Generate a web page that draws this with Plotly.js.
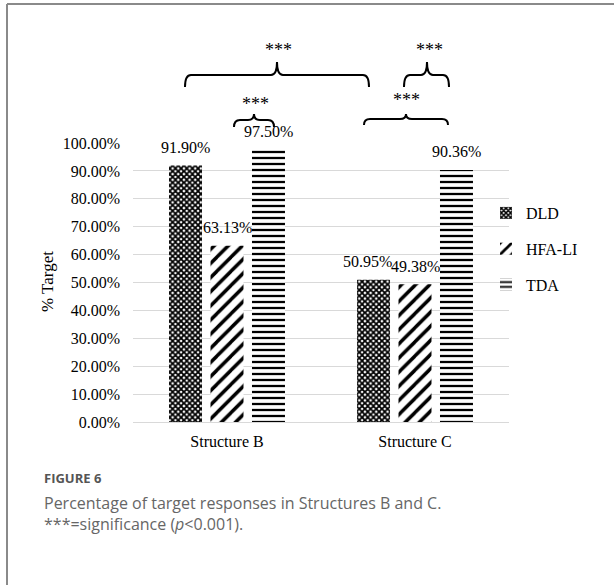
<!DOCTYPE html>
<html>
<head>
<meta charset="utf-8">
<script src="https://cdn.plot.ly/plotly-3.0.1.min.js"></script>
<style>
  html, body { margin: 0; padding: 0; background: #ffffff; }
  #chart { width: 614px; height: 585px; }
</style>
</head>
<body>
<div id="chart"></div>
<script>
// ---- data ----
const categories = ["Structure B", "Structure C"];
const seriesNames = ["DLD", "HFA-LI", "TDA"];
const dldValues = [0.9190, 0.5095];
const hfaValues = [0.6313, 0.4938];
const tdaValues = [0.9750, 0.9036];
const yTickValues = [0, 0.1, 0.2, 0.3, 0.4, 0.5, 0.6, 0.7, 0.8, 0.9, 1.0];
const sigLabel = "***";

// ---- layout helpers (pixel -> paper) ----
const W = 614, H = 585;
const M = { l: 133, r: 105, t: 143, b: 163 };
const PW = W - M.l - M.r, PH = H - M.t - M.b;
const X = p => (p - M.l) / PW;
const Y = p => (H - M.b - p) / PH;
const BARGAP = 0.338, BARGROUPGAP = 0.205;
// small horizontal nudge (px) of crowded value labels, keyed "series,category"
const labelNudge = { "0,1": -6 };

const serif = "Liberation Serif, Times New Roman, serif";

function barTrace(name, vals, shape, size, solidity) {
  return {
    type: "bar",
    name: name,
    legendgroup: name,
    x: categories,
    y: vals,
    marker: {
      color: "#ffffff",
      line: { width: 0 },
      pattern: { shape: shape, size: size, solidity: solidity, fgcolor: "#000000", bgcolor: "#ffffff", fillmode: "replace" }
    },
    hoverinfo: "skip"
  };
}

const seriesValues = [dldValues, hfaValues, tdaValues];
const traces = [
  barTrace(seriesNames[0], dldValues, "x", 4, 0.7),
  barTrace(seriesNames[1], hfaValues, "/", 10, 0.35),
  barTrace(seriesNames[2], tdaValues, "-", 6, 0.38)
];

// curly bracket path in pixel coords -> paper path
function bracket(x1, x2, yh, yend, xm, ytip) {
  const r = 6;
  const pts = (a, b) => X(a).toFixed(5) + "," + Y(b).toFixed(5);
  return "M" + pts(x1, yend) +
    " Q" + pts(x1, yh) + " " + pts(x1 + r, yh) +
    " L" + pts(xm - r, yh) +
    " Q" + pts(xm, yh) + " " + pts(xm, ytip) +
    " Q" + pts(xm, yh) + " " + pts(xm + r, yh) +
    " L" + pts(x2 - r, yh) +
    " Q" + pts(x2, yh) + " " + pts(x2, yend);
}

const brackets = [
  { x1: 185, x2: 369, yh: 75, yend: 87, xm: 277, ytip: 62, sx: 278, sy: 50 },
  { x1: 404, x2: 449, yh: 75, yend: 87, xm: 427, ytip: 62, sx: 429, sy: 50 },
  { x1: 234, x2: 274, yh: 120, yend: 127, xm: 254, ytip: 114, sx: 255, sy: 104 },
  { x1: 364, x2: 448, yh: 119, yend: 125, xm: 406, ytip: 114, sx: 406, sy: 100 }
];

const shapes = brackets.map(b => ({
  type: "path", xref: "paper", yref: "paper",
  path: bracket(b.x1, b.x2, b.yh, b.yend, b.xm, b.ytip),
  line: { color: "#000", width: 2 }
}));
// outer frame lines
shapes.push({ type: "line", xref: "paper", yref: "paper", x0: X(7), x1: X(614), y0: Y(4), y1: Y(4), line: { color: "#8a8a8a", width: 2 } });
shapes.push({ type: "line", xref: "paper", yref: "paper", x0: X(7), x1: X(7), y0: Y(4), y1: Y(585), line: { color: "#8a8a8a", width: 2 } });

const annotations = brackets.map(b => ({
  xref: "paper", yref: "paper", x: X(b.sx), y: Y(b.sy),
  text: sigLabel, showarrow: false, xanchor: "center", yanchor: "middle",
  font: { family: serif, size: 18, color: "#000" }
}));

// value labels above bars (positions derived from the bar layout)
const slotPx = (PW / categories.length) * (1 - BARGAP) / seriesNames.length;
seriesValues.forEach((vals, i) => {
  vals.forEach((v, j) => {
    annotations.push({
      xref: "x", yref: "y", x: categories[j], y: v,
      xshift: (i - (seriesNames.length - 1) / 2) * slotPx + (labelNudge[i + "," + j] || 0),
      yshift: 18,
      text: (v * 100).toFixed(2) + "%",
      showarrow: false, xanchor: "center", yanchor: "middle",
      font: { family: serif, size: 16, color: "#000" }
    });
  });
});

annotations.push({
  xref: "paper", yref: "paper", x: X(47), y: Y(282), text: "% Target",
  textangle: -90, showarrow: false, xanchor: "center", yanchor: "middle",
  font: { family: serif, size: 17, color: "#000" }
});
annotations.push({
  xref: "paper", yref: "paper", x: X(42), y: Y(478), text: "<b>FIGURE 6</b>",
  showarrow: false, xanchor: "left", yanchor: "middle",
  font: { family: "Open Sans, sans-serif", size: 13, color: "#555" }
});
annotations.push({
  xref: "paper", yref: "paper", x: X(42), y: Y(503), text: "Percentage of target responses in Structures B and C.",
  showarrow: false, xanchor: "left", yanchor: "middle",
  font: { family: "Open Sans, sans-serif", size: 16, color: "#666" }
});
annotations.push({
  xref: "paper", yref: "paper", x: X(42), y: Y(524), text: "***=significance (<i>p</i><0.001).",
  showarrow: false, xanchor: "left", yanchor: "middle",
  font: { family: "Open Sans, sans-serif", size: 16, color: "#666" }
});

const layout = {
  width: W, height: H,
  margin: M,
  paper_bgcolor: "#ffffff",
  plot_bgcolor: "#ffffff",
  barmode: "group",
  bargap: BARGAP,
  bargroupgap: BARGROUPGAP,
  showlegend: true,
  legend: {
    x: X(486), y: Y(196), xanchor: "left", yanchor: "top",
    font: { family: serif, size: 16, color: "#000" },
    traceorder: "grouped", tracegroupgap: 12,
    bgcolor: "rgba(0,0,0,0)"
  },
  xaxis: {
    type: "category",
    showgrid: false, showline: false, zeroline: false, ticks: "",
    tickfont: { family: serif, size: 16, color: "#000" },
    ticklabelstandoff: 8, automargin: false
  },
  yaxis: {
    range: [0, 1.0],
    tickvals: yTickValues,
    tickformat: ".2%",
    showgrid: true, gridcolor: "#d9d9d9", gridwidth: 1,
    zeroline: true, zerolinecolor: "#d9d9d9", zerolinewidth: 1,
    showline: false, ticks: "",
    tickfont: { family: serif, size: 16, color: "#000" },
    ticklabelstandoff: 12, automargin: false
  },
  shapes: shapes,
  annotations: annotations
};

Plotly.newPlot("chart", traces, layout, { displayModeBar: false, staticPlot: true });
</script>
</body>
</html>
